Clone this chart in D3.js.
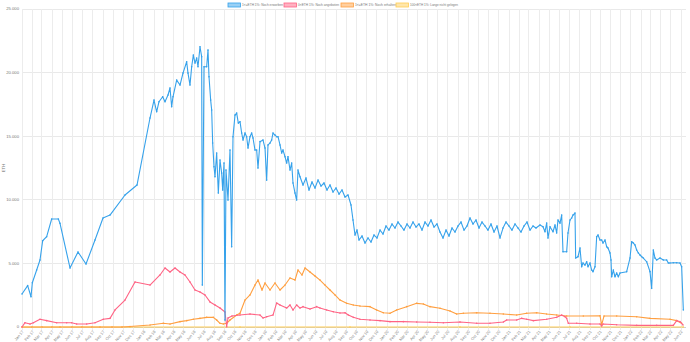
<!DOCTYPE html>
<html><head><meta charset="utf-8">
<script src="https://cdn.jsdelivr.net/npm/d3@7"></script>
<style>html,body{margin:0;padding:0;background:#fff;}svg{display:block;font-family:"Helvetica Neue",Arial,"Liberation Sans",sans-serif;}</style>
</head><body><div id="chart"></div>
<script>
// ---- data ----
const startDate = "2017-01-01";
const spanDays = 1992;
const seriesNames = ["1<=ETH 1%: Noch erworben", "0<ETH 1%: Noch angeboten", "1<=ETH 1%: Noch erhalten", "100<ETH 1%: Lange nicht gelegen"];
const seriesColors = ["rgb(54,162,235)", "rgb(255,99,132)", "rgb(255,159,64)", "rgb(255,205,86)"];
const yTicks = [0, 5000, 10000, 15000, 20000, 25000];
const yTickLabels = ["0", "5.000", "10.000", "15.000", "20.000", "25.000"];
const yTitle = "ETH";
const tickLabels = ["Jan 17","Feb 17","Mar 17","Apr 17","May 17","Jun 17","Jul 17","Aug 17","Sep 17","Oct 17","Nov 17","Dec 17",
"Jan 18","Feb 18","Mar 18","Apr 18","May 18","Jun 18","Jul 18","Aug 18","Sep 18","Oct 18","Nov 18","Dec 18",
"Jan 19","Feb 19","Mar 19","Apr 19","May 19","Jun 19","Jul 19","Aug 19","Sep 19","Oct 19","Nov 19","Dec 19",
"Jan 20","Feb 20","Mar 20","Apr 20","May 20","Jun 20","Jul 20","Aug 20","Sep 20","Oct 20","Nov 20","Dec 20",
"Jan 21","Feb 21","Mar 21","Apr 21","May 21","Jun 21","Jul 21","Aug 21","Sep 21","Oct 21","Nov 21","Dec 21",
"Jan 22","Feb 22","Mar 22","Apr 22","May 22","Jun 22"];

// [day offset from startDate, ETH]
const blueSeries = [[0,2590],[17,3250],[27,2380],[31,3480],[44,4480],[54,5270],[62,6780],[74,7100],[89,8490],[109,8490],[114,8150],
[144,4640],[168,5900],[192,4950],[219,6840],[243,8570],[264,8800],[309,10380],[345,11160],[384,16430],[396,17840],[404,16920],
[411,17710],[422,18100],[429,17710],[438,18240],[444,18790],[449,17320],[453,18100],[464,19410],[474,19020],[483,19960],[494,20850],
[498,19960],[504,19020],[509,20460],[514,21380],[519,20750],[524,21140],[528,20460],[534,22030],[539,21250],[541,3300],[546,20460],
[554,20460],[558,21770],[561,19670],[566,17840],[569,17060],[572,14460],[576,12600],[579,11810],[584,13680],[589,10530],[594,13130],
[599,12100],[602,10770],[606,12890],[609,550],[612,12340],[618,9980],[624,13910],[629,6310],[633,14960],[639,16660],[644,16820],
[649,16030],[654,16140],[659,15250],[663,14700],[669,15250],[674,14960],[678,14070],[684,14960],[689,15250],[693,14860],[699,13910],
[704,13910],[708,12500],[714,14570],[723,14700],[729,14070],[734,11550],[738,14310],[744,14460],[749,14700],[753,15250],[759,15090],
[764,14960],[768,14960],[774,14310],[779,13680],[783,13910],[789,13390],[794,12890],[798,13390],[804,12340],[809,12890],[813,11320],
[819,10530],[824,9980],[828,12340],[834,11810],[843,11160],[852,11710],[861,10770],[870,11400],[879,10930],[888,11550],[897,11080],
[906,11320],[915,10770],[924,11160],[933,10610],[942,10930],[951,10450],[960,10770],[969,10220],[978,10380],[987,9590],[993,8410],
[999,7230],[1005,7620],[1011,6840],[1020,7150],[1029,6600],[1038,7000],[1047,6680],[1056,7230],[1065,7000],[1074,7620],[1083,7310],
[1092,7940],[1101,7620],[1110,8100],[1119,7780],[1128,8250],[1137,7940],[1146,7620],[1155,8100],[1164,7780],[1173,8250],[1182,7860],
[1191,8100],[1200,7620],[1209,8250],[1218,7940],[1227,8410],[1236,7860],[1245,8100],[1254,7470],[1263,7000],[1272,7620],[1281,7150],
[1290,7780],[1299,7470],[1308,7940],[1317,8250],[1326,7620],[1335,7940],[1344,8570],[1353,8100],[1362,8410],[1371,7780],[1380,8250],
[1389,7940],[1398,7620],[1407,8100],[1416,7470],[1425,7940],[1434,7000],[1443,7780],[1452,8250],[1461,7940],[1470,7620],[1479,8100],
[1488,7780],[1497,7470],[1506,7940],[1515,8250],[1524,7620],[1533,7940],[1542,7780],[1554,8020],[1563,7880],[1569,7490],[1574,8170],
[1578,7000],[1584,7880],[1593,7490],[1599,8020],[1604,7390],[1608,8410],[1614,8170],[1619,8800],[1623,5920],[1634,5920],[1638,7390],
[1644,8410],[1649,8570],[1653,8800],[1659,8960],[1661,5420],[1668,5530],[1674,6210],[1679,4740],[1683,5030],[1689,4870],[1694,5130],
[1698,4740],[1704,5030],[1709,4480],[1713,4350],[1719,4740],[1724,7100],[1728,7230],[1734,6840],[1739,6840],[1743,6600],[1749,6840],
[1754,6310],[1758,6210],[1764,5820],[1767,5270],[1769,3950],[1774,4480],[1779,3950],[1784,4240],[1789,3950],[1794,4240],[1814,4350],
[1824,5420],[1829,6700],[1834,6600],[1839,6450],[1844,6050],[1849,5820],[1854,5660],[1859,5530],[1864,5420],[1874,5130],[1884,4350],
[1889,3040],[1894,6050],[1899,5420],[1904,5270],[1914,5420],[1924,5270],[1934,5270],[1939,5030],[1944,5030],[1954,5050],[1964,5050],
[1974,5030],[1979,4740],[1984,1340]];

const pinkSeries = [[0,0],[9,340],[24,240],[34,340],[54,610],[74,500],[104,340],[134,340],[149,340],[164,240],[194,240],[219,340],
[244,610],[264,680],[279,1340],[309,2120],[339,3540],[384,3300],[414,4090],[429,4640],[444,4320],[459,4640],[474,4320],[489,4090],
[504,3540],[519,2910],[534,2750],[549,2520],[564,1970],[579,1730],[594,1490],[609,1180],[614,20],[618,710],[630,860],[654,940],
[684,1020],[714,940],[723,710],[734,810],[753,940],[764,1890],[774,1730],[794,1490],[804,1730],[813,1340],[824,1730],[834,1490],
[843,1600],[864,1410],[884,1600],[894,1490],[914,1340],[934,1200],[954,1100],[969,1120],[979,940],[994,760],[1014,610],[1044,550],
[1074,500],[1104,420],[1144,420],[1184,390],[1224,370],[1264,340],[1314,390],[1364,290],[1404,290],[1444,390],[1454,550],[1484,550],
[1499,680],[1514,610],[1534,500],[1574,610],[1604,760],[1619,940],[1629,810],[1634,680],[1639,290],[1664,290],[1704,240],[1734,240],
[1739,80],[1743,240],[1784,180],[1844,130],[1904,130],[1954,130],[1964,500],[1974,420],[1983,160]];

const orangeSeries = [[0,0],[30,0],[60,0],[90,0],[114,0],[150,0],[180,0],[210,0],[234,0],[270,0],[300,0],[324,40],[384,160],[424,290],
[444,240],[474,420],[494,500],[514,610],[534,680],[554,760],[574,760],[584,550],[594,290],[604,240],[614,290],[624,550],[644,940],
[654,1080],[669,2120],[684,2520],[699,3300],[708,3690],[720,2910],[729,3460],[744,2910],[759,3460],[774,2910],[789,3300],[804,3850],
[819,3690],[828,4480],[840,4090],[849,4640],[864,4320],[879,4010],[894,3690],[909,3300],[924,2910],[939,2520],[954,2120],[974,1860],
[994,1730],[1014,1650],[1044,1600],[1064,1340],[1084,1120],[1104,1080],[1124,1340],[1154,1600],[1184,1860],[1204,1810],[1224,1600],
[1254,1470],[1284,1260],[1304,1020],[1324,1080],[1364,1120],[1404,1080],[1444,1020],[1484,940],[1514,1080],[1544,1120],[1574,1020],
[1604,940],[1634,860],[1684,860],[1734,890],[1739,160],[1746,860],[1784,860],[1844,810],[1884,680],[1944,610],[1964,500],[1979,290]];

const yellowSeries = [[0,0],[324,0],[654,0],[984,0],[1314,0],[1644,0],[1984,0]];

// ---- chart ----
const W = 690, H = 342;
const L = 22, R = 686, T = 9, B = 327;
const t0 = d3.timeParse("%Y-%m-%d")(startDate);
const toDate = d => d3.timeDay.offset(t0, d);
const x = d3.scaleTime().domain([t0, toDate(spanDays)]).range([L, R]);
const y = d3.scaleLinear().domain([0, 25000]).range([B, T]);
const parseTick = d3.timeParse("%b %y");

const svg = d3.select("#chart").append("svg").attr("width", W).attr("height", H);

// grid
const grid = svg.append("g");
grid.selectAll("line.h").data(yTicks).join("line")
  .attr("x1", L).attr("x2", R).attr("y1", d => y(d)).attr("y2", d => y(d))
  .attr("stroke", d => d === 0 ? "#cfcfcf" : "#e9e9e9").attr("stroke-width", 1).attr("shape-rendering", "crispEdges");
grid.selectAll("line.v").data(tickLabels).join("line")
  .attr("x1", d => x(parseTick(d))).attr("x2", d => x(parseTick(d)))
  .attr("y1", T).attr("y2", B + 3)
  .attr("stroke", "#ececec").attr("stroke-width", 1).attr("shape-rendering", "crispEdges");

// y tick labels
svg.append("g").selectAll("text").data(yTicks).join("text")
  .attr("x", L - 3).attr("y", d => y(d)).attr("dy", "0.35em")
  .attr("text-anchor", "end").attr("font-size", 4.2).attr("fill", "#777")
  .text((d, i) => yTickLabels[i]);

// y title
svg.append("text").attr("transform", `translate(5,${(T + B) / 2}) rotate(-90)`)
  .attr("text-anchor", "middle").attr("font-size", 4.2).attr("fill", "#777").text(yTitle);

// x tick labels
svg.append("g").selectAll("text").data(tickLabels).join("text")
  .attr("transform", d => `translate(${x(parseTick(d)) + 1},${B + 4}) rotate(-50)`)
  .attr("text-anchor", "end").attr("dy", "0.3em").attr("font-size", 4).attr("fill", "#888")
  .text(d => d);

// lines (last dataset drawn first)
const allSeries = [blueSeries, pinkSeries, orangeSeries, yellowSeries];
const line = d3.line().x(d => x(toDate(d[0]))).y(d => y(d[1]));
for (let i = allSeries.length - 1; i >= 0; i--) {
  const g = svg.append("g");
  g.append("path").datum(allSeries[i]).attr("d", line)
    .attr("fill", "none").attr("stroke", seriesColors[i]).attr("stroke-width", 1.1).attr("stroke-linejoin", "round");
  g.selectAll("circle").data(allSeries[i]).join("circle")
    .attr("cx", d => x(toDate(d[0]))).attr("cy", d => y(d[1])).attr("r", 0.8)
    .attr("fill", seriesColors[i]);
}

// legend
const legendX = [228, 284, 341, 396];
const lg = svg.append("g");
seriesNames.forEach((name, i) => {
  lg.append("rect").attr("x", legendX[i]).attr("y", 3).attr("width", 12.5).attr("height", 4)
    .attr("fill", seriesColors[i].replace("rgb", "rgba").replace(")", ",0.5)"))
    .attr("stroke", seriesColors[i]).attr("stroke-width", 0.8);
  lg.append("text").attr("x", legendX[i] + 14).attr("y", 5).attr("dy", "0.35em")
    .attr("font-size", 3.3).attr("fill", "#777").text(name)
    .attr("textLength", i === 3 ? 48 : 41).attr("lengthAdjust", "spacingAndGlyphs");
});
</script></body></html>
